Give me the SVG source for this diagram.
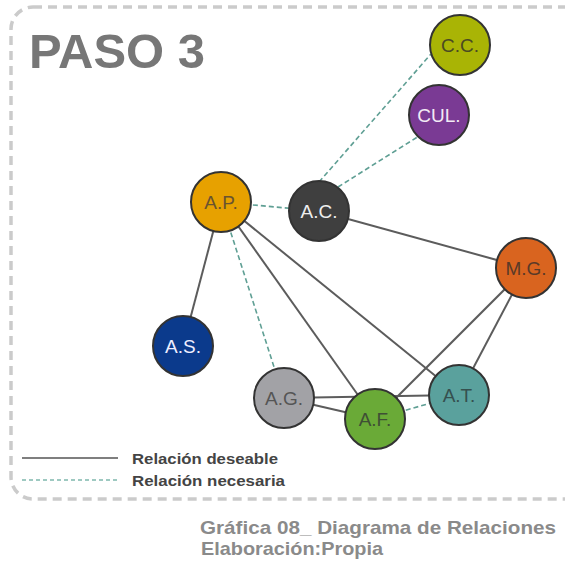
<svg xmlns="http://www.w3.org/2000/svg" width="565" height="565" viewBox="0 0 565 565">
<style>
.node circle{stroke:#333;stroke-width:2}
.lbl{font-family:"Liberation Sans",Arial,sans-serif;font-size:19px;text-anchor:middle;dominant-baseline:central}
.solid{stroke:#5c5c5c;stroke-width:2;fill:none}
.dash{stroke:#5f9f94;stroke-width:1.6;stroke-dasharray:5 3;fill:none}
.leg{font-family:"Liberation Sans",Arial,sans-serif;font-size:15.5px;font-weight:bold;fill:#444}
.cap{font-family:"Liberation Sans",Arial,sans-serif;font-size:19px;font-weight:bold;fill:#8a8a8a}
</style>
<rect width="565" height="565" fill="#fff"/>
<rect x="11" y="7" width="580" height="492" rx="22" fill="none" stroke="#cbcbcb" stroke-width="3.5" stroke-dasharray="9 6"/>
<text x="29" y="68" font-family="'Liberation Sans',Arial,sans-serif" font-size="49" font-weight="bold" fill="#777" textLength="176" lengthAdjust="spacingAndGlyphs">PASO 3</text>
<g id="connectors">
<line class="solid" x1="221" y1="202" x2="183" y2="346"/>
<line class="solid" x1="221" y1="202" x2="375" y2="419"/>
<line class="solid" x1="221" y1="202" x2="459" y2="395"/>
<line class="solid" x1="319" y1="211" x2="526" y2="268"/>
<line class="solid" x1="284" y1="398" x2="459" y2="395"/>
<line class="solid" x1="284" y1="398" x2="375" y2="419"/>
<line class="solid" x1="375" y1="419" x2="526" y2="268"/>
<line class="solid" x1="459" y1="395" x2="526" y2="268"/>
<line class="dash" x1="221" y1="202" x2="319" y2="211"/>
<line class="dash" x1="319" y1="182" x2="431" y2="54"/>
<line class="dash" x1="338" y1="187" x2="419" y2="136"/>
<line class="dash" x1="221" y1="202" x2="284" y2="398"/>
<line class="dash" x1="375" y1="419" x2="459" y2="395"/>
</g>
<g id="CC" class="node"><circle cx="460" cy="45" r="30" fill="#a9b405"/><text class="lbl" x="460" y="45" fill="#4a4a22">C.C.</text></g>
<g id="CUL" class="node"><circle cx="439" cy="115" r="30" fill="#7a3a94"/><text class="lbl" x="439" y="115" fill="#f2eaf5">CUL.</text></g>
<g id="AC" class="node"><circle cx="319" cy="211" r="30" fill="#3f3f3f"/><text class="lbl" x="319" y="211" fill="#eee">A.C.</text></g>
<g id="AP" class="node"><circle cx="221" cy="202" r="30" fill="#e7a100"/><text class="lbl" x="221" y="202" fill="#6a5330">A.P.</text></g>
<g id="AS" class="node"><circle cx="183" cy="346" r="30" fill="#0b3a8c"/><text class="lbl" x="183" y="346" fill="#eef">A.S.</text></g>
<g id="MG" class="node"><circle cx="526" cy="268" r="30" fill="#d9641f"/><text class="lbl" x="526" y="268" fill="#5a3a28">M.G.</text></g>
<g id="AG" class="node"><circle cx="284" cy="398" r="30" fill="#a2a2a6"/><text class="lbl" x="284" y="398" fill="#555">A.G.</text></g>
<g id="AF" class="node"><circle cx="375" cy="419" r="30" fill="#6aaa37"/><text class="lbl" x="375" y="419" fill="#3f4f35">A.F.</text></g>
<g id="AT" class="node"><circle cx="459" cy="395" r="30" fill="#5aa19d"/><text class="lbl" x="459" y="395" fill="#35504f">A.T.</text></g>
<g id="legend">
<line x1="22" y1="458" x2="118" y2="458" stroke="#555" stroke-width="1.6"/>
<line x1="22" y1="480" x2="118" y2="480" stroke="#7fb8ad" stroke-width="1.3" stroke-dasharray="4 3"/>
<text class="leg" x="132" y="464" textLength="146" lengthAdjust="spacingAndGlyphs">Relación deseable</text>
<text class="leg" x="132" y="486" textLength="153" lengthAdjust="spacingAndGlyphs">Relación necesaria</text>
</g>
<text class="cap" x="200" y="534" textLength="356" lengthAdjust="spacingAndGlyphs">Gráfica 08_ Diagrama de Relaciones</text>
<text class="cap" x="201" y="555" textLength="182" lengthAdjust="spacingAndGlyphs">Elaboración:Propia</text>
</svg>
